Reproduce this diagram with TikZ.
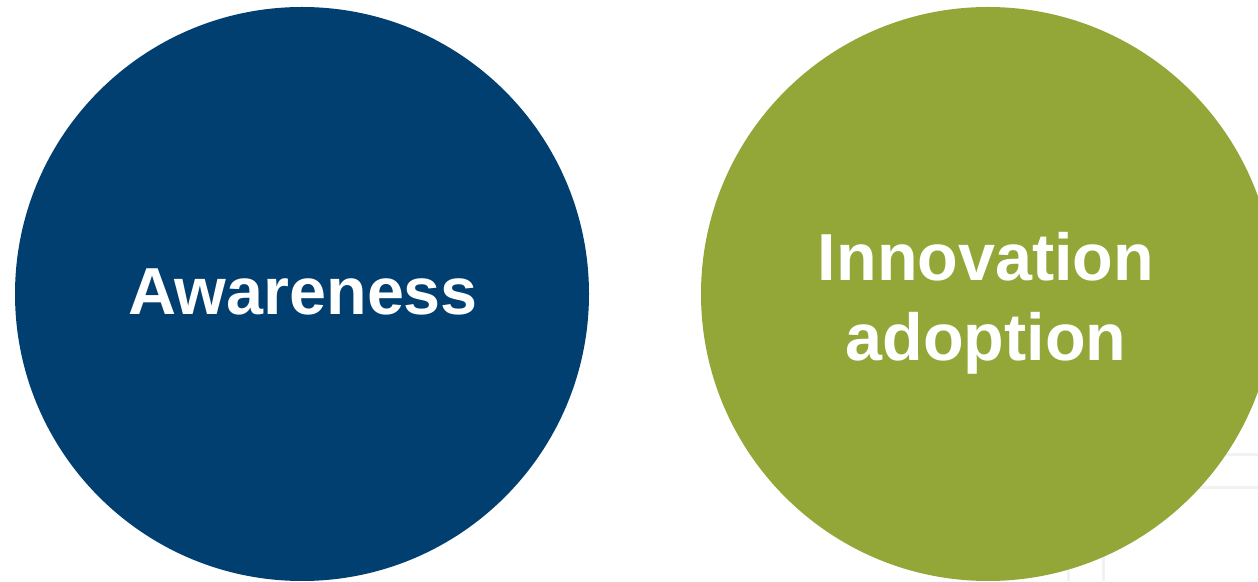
\documentclass[tikz,border=0pt]{standalone}
\usepackage{fontspec}
\setmainfont{Liberation Sans}
\definecolor{awblue}{RGB}{1,63,112}
\definecolor{adgreen}{RGB}{147,167,56}
\definecolor{faint}{RGB}{242,242,242}
\begin{document}
\begin{tikzpicture}[x=1pt,y=1pt,
  bubble/.style={circle, inner sep=0pt, minimum size=574pt, draw=none},
  lbl/.style={text=white, inner sep=0pt, align=center, font=\bfseries\fontsize{66.5}{80}\selectfont},
  ghost/.style={draw=faint, line width=3pt}]
\fill[white] (0,0) rectangle (1258,581);
\useasboundingbox (0,0) rectangle (1258,581);
% faint background lines (bottom right)
\coordinate (h1a) at (1068,126);
\coordinate (h1b) at (1258,126);
\coordinate (h2a) at (1068,93);
\coordinate (h2b) at (1258,93);
\coordinate (v1a) at (1068,126);
\coordinate (v1b) at (1068,0);
\coordinate (v2a) at (1103,126);
\coordinate (v2b) at (1103,0);
\draw[ghost] (h1a) -- (h1b);
\draw[ghost] (h2a) -- (h2b);
\draw[ghost] (v1a) -- (v1b);
\draw[ghost] (v2a) -- (v2b);
% circles
\node[bubble, fill=awblue] (aw) at (302,287) {};
\node[bubble, fill=adgreen] (ad) at (988,287) {};
% labels
\node[lbl, anchor=base] (awt) at (303,266) {Awareness};
\node[lbl] (adt) at (986,278) {Innovation\\adoption};
\end{tikzpicture}
\end{document}
